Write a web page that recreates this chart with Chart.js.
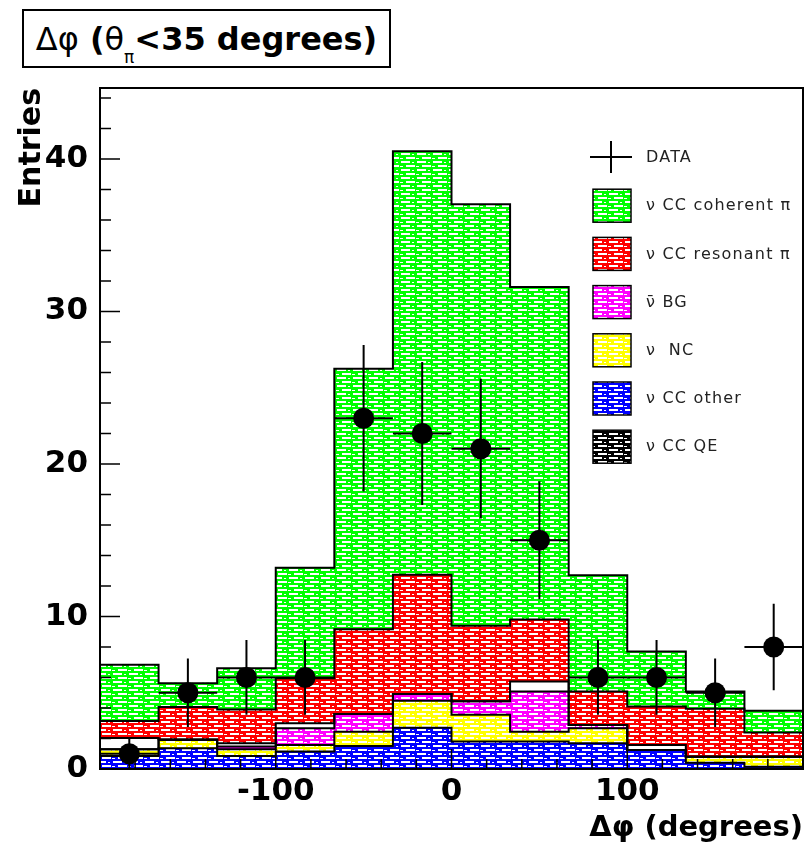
<!DOCTYPE html>
<html>
<head>
<meta charset="utf-8">
<script src="https://cdn.jsdelivr.net/npm/chart.js@4"></script>
<style>
  body { margin: 0; background: #fff; overflow: hidden; }
  #marco { position: relative; width: 807px; height: 846px; }
  #grafica { display: block; }
  #titulo {
    position: absolute; left: 22px; top: 9px; width: 365px; height: 55px;
    border: 2px solid #000; background: #fff;
    display: flex; align-items: center; justify-content: center;
    font: bold 32px "DejaVu Sans", sans-serif; color: #000; white-space: nowrap;
  }
  #titulo .g { font-weight: normal; }
  #titulo sub { font-size: 17px; font-weight: normal; vertical-align: -13px; line-height: 0; }
</style>
</head>
<body>
<div id="marco">
  <canvas id="grafica" width="807" height="846"></canvas>
  <div id="titulo"><span><span class="g">Δφ</span> (<span class="g">θ</span><sub>π</sub>&lt;35 degrees)</span></div>
</div>
<script>
// bins de Δφ (grados), 12 bins de -200 a 200
const binCenters = [-183.33, -150, -116.67, -83.33, -50, -16.67, 16.67, 50, 83.33, 116.67, 150, 183.33];
const binEdges = [-200, -166.67, -133.33, -100, -66.67, -33.33, 0, 33.33, 66.67, 100, 133.33, 166.67, 200];

// componentes del stack (de abajo hacia arriba)
const ccOther = [0.85, 1.36, 0.85, 1.14, 1.5, 2.7, 1.8, 1.8, 1.69, 1.25, 0.41, 0.15];
const ncVals = [0.44, 0.54, 0.44, 0.44, 0.95, 1.78, 1.75, 0.65, 0.98, 0, 0.4, 0.65];
const nubarBG = [0, 0, 0.18, 1.09, 1.15, 0.44, 0.9, 2.63, 0.22, 0, 0, 0];
const ccQE = [0.74, 0.05, 0.22, 0.33, 0, 0, 0, 0.65, 0, 0.33, 0, 0];
const resonante = [1.12, 2.12, 2.21, 2.95, 5.57, 7.82, 4.95, 4.07, 2.19, 2.51, 3.14, 1.6];
const coherente = [3.68, 1.56, 2.7, 7.25, 17.07, 27.76, 27.63, 21.8, 7.62, 3.61, 1.13, 1.42];

// datos con errores
const datos = [1, 5, 6, 6, 23, 22, 21, 15, 6, 6, 5, 8];
const errores = [1, 2.24, 2.45, 2.45, 4.8, 4.69, 4.58, 3.87, 2.45, 2.45, 2.24, 2.83];

const yTicks = [0, 10, 20, 30, 40];
const xTicks = [-100, 0, 100];

const lienzo = document.getElementById("grafica");
const ctxBase = lienzo.getContext("2d");

// trama tipo ROOT: color con rayitas blancas
function trama(color, fondo) {
  const t = document.createElement("canvas");
  t.width = 16; t.height = 8;
  const g = t.getContext("2d");
  g.fillStyle = color; g.fillRect(0, 0, 16, 8);
  g.fillStyle = fondo;
  g.fillRect(1, 1, 9, 2);
  g.fillRect(12, 2, 2, 1);
  g.fillRect(6, 5, 9, 2);
  g.fillRect(0, 6, 3, 1);
  return ctxBase.createPattern(t, "repeat");
}

const capas = [
  { label: "ν CC other", data: ccOther, fill: trama("#0000ff", "#fff"), swatch: trama("#0000ff", "#fff") },
  { label: "ν  NC", data: ncVals, fill: trama("#ffff00", "#fff"), swatch: trama("#ffff00", "#fff") },
  { label: "ν\u0304 BG", data: nubarBG, fill: trama("#ff00ff", "#fff"), swatch: trama("#ff00ff", "#fff") },
  { label: "ν CC QE", data: ccQE, fill: "#ffffff", swatch: trama("#000000", "#fff") },
  { label: "ν CC resonant π", data: resonante, fill: trama("#ff0000", "#fff"), swatch: trama("#ff0000", "#fff") },
  { label: "ν CC coherent π", data: coherente, fill: trama("#00ff00", "#fff"), swatch: trama("#00ff00", "#fff") }
];
// orden de la leyenda (como en ROOT)
const ordenLeyenda = [5, 4, 2, 1, 0, 3];

const fuente = "DejaVu Sans";

const dibujo = {
  id: "dibujo",
  beforeDatasetDraw(chart, args) {
    if (args.index !== capas.length) return; // justo antes de los puntos
    const ctx = chart.ctx, x = chart.scales.x, y = chart.scales.y;
    ctx.save();
    ctx.strokeStyle = "#000";
    ctx.lineWidth = 2;
    // contorno de cada histograma acumulado
    const acum = binCenters.map(() => 0);
    capas.forEach(c => {
      c.data.forEach((v, i) => { acum[i] += v; });
      ctx.beginPath();
      ctx.moveTo(x.getPixelForValue(binEdges[0]), y.getPixelForValue(acum[0]));
      acum.forEach((v, i) => {
        const py = y.getPixelForValue(v);
        ctx.lineTo(x.getPixelForValue(binEdges[i]), py);
        ctx.lineTo(x.getPixelForValue(binEdges[i + 1]), py);
      });
      ctx.stroke();
    });
    // barras de error
    datos.forEach((v, i) => {
      const py = y.getPixelForValue(v);
      const px = x.getPixelForValue(binCenters[i]);
      ctx.beginPath();
      ctx.moveTo(x.getPixelForValue(binEdges[i]), py);
      ctx.lineTo(x.getPixelForValue(binEdges[i + 1]), py);
      ctx.moveTo(px, y.getPixelForValue(v - errores[i]));
      ctx.lineTo(px, y.getPixelForValue(v + errores[i]));
      ctx.stroke();
    });
    ctx.restore();
  },
  afterDatasetsDraw(chart) {
    const ctx = chart.ctx, a = chart.chartArea, x = chart.scales.x, y = chart.scales.y;
    ctx.save();
    ctx.strokeStyle = "#000";
    ctx.lineWidth = 1.5;
    ctx.beginPath();
    for (let v = 0; v <= y.max; v += 2) {
      const py = y.getPixelForValue(v);
      ctx.moveTo(a.left, py);
      ctx.lineTo(a.left + (v % 10 === 0 ? 20 : 11), py);
    }
    for (let v = x.min; v <= x.max; v += 20) {
      const px = x.getPixelForValue(v);
      ctx.moveTo(px, a.bottom);
      ctx.lineTo(px, a.bottom - (v % 100 === 0 ? 20 : 10));
    }
    ctx.stroke();
    ctx.lineWidth = 2;
    ctx.strokeRect(a.left, a.top, a.right - a.left, a.bottom - a.top);
    ctx.restore();
  },
  afterDraw(chart) {
    // leyenda dentro del marco, arriba a la derecha
    const ctx = chart.ctx, a = chart.chartArea;
    const x0 = a.right - 210, y0 = a.top + 69, paso = 48.2;
    ctx.save();
    ctx.strokeStyle = "#000";
    ctx.fillStyle = "#222";
    ctx.lineWidth = 2;
    ctx.font = "16px " + fuente;
    ctx.letterSpacing = "1.2px";
    ctx.textBaseline = "middle";
    ctx.beginPath();
    ctx.moveTo(x0 - 3, y0); ctx.lineTo(x0 + 39, y0);
    ctx.moveTo(x0 + 18, y0 - 16); ctx.lineTo(x0 + 18, y0 + 16);
    ctx.stroke();
    ctx.fillText("DATA", x0 + 53, y0 + 1);
    ordenLeyenda.forEach((idx, k) => {
      const c = capas[idx];
      const yc = y0 + (k + 1) * paso;
      ctx.fillStyle = c.swatch;
      ctx.fillRect(x0, yc - 16, 38, 33);
      ctx.lineWidth = 1.5;
      ctx.strokeRect(x0, yc - 16, 38, 33);
      ctx.fillStyle = "#222";
      ctx.fillText(c.label, x0 + 53, yc + 1);
    });
    ctx.restore();
  }
};

const datasets = capas.map(c => ({
  type: "bar",
  label: c.label,
  data: c.data.map((v, i) => ({ x: binCenters[i], y: v })),
  backgroundColor: c.fill,
  borderWidth: 0,
  grouped: false,
  barPercentage: 1,
  categoryPercentage: 1
}));
datasets.push({
  type: "scatter",
  label: "DATA",
  data: datos.map((v, i) => ({ x: binCenters[i], y: v })),
  stack: "datos",
  order: -1,
  pointRadius: 10.5,
  pointBackgroundColor: "#000",
  pointBorderWidth: 0
});

new Chart(ctxBase, {
  type: "bar",
  data: { datasets },
  options: {
    responsive: false,
    animation: false,
    devicePixelRatio: 1,
    layout: { autoPadding: false, padding: { top: 88, right: 4, left: 0, bottom: 0 } },
    plugins: { legend: { display: false }, tooltip: { enabled: false } },
    scales: {
      x: {
        type: "linear", position: "bottom", min: -200, max: 200, offset: false,
        afterBuildTicks: ax => { ax.ticks = xTicks.map(v => ({ value: v })); },
        afterFit: ax => { ax.height = 77; ax.paddingLeft = 0; ax.paddingRight = 0; },
        grid: { display: false, drawTicks: false, offset: false },
        border: { display: false },
        ticks: { color: "#000", padding: 4, maxRotation: 0, font: { family: fuente, weight: "bold", size: 31 } },
        title: { display: true, text: "Δφ (degrees)", align: "end", color: "#000", padding: 0,
                 font: { family: fuente, weight: "bold", size: 29 } }
      },
      y: {
        stacked: true, min: 0, max: 44.65,
        afterBuildTicks: ax => { ax.ticks = yTicks.map(v => ({ value: v })); },
        afterFit: ax => { ax.width = 100; },
        grid: { display: false, drawTicks: false },
        border: { display: false },
        ticks: { color: "#000", padding: 12, font: { family: fuente, weight: "bold", size: 31 } },
        title: { display: true, text: "Entries", align: "end", color: "#000", padding: { top: 14, bottom: 0 },
                 font: { family: fuente, weight: "bold", size: 30 } }
      }
    }
  },
  plugins: [dibujo]
});
</script>
</body>
</html>
